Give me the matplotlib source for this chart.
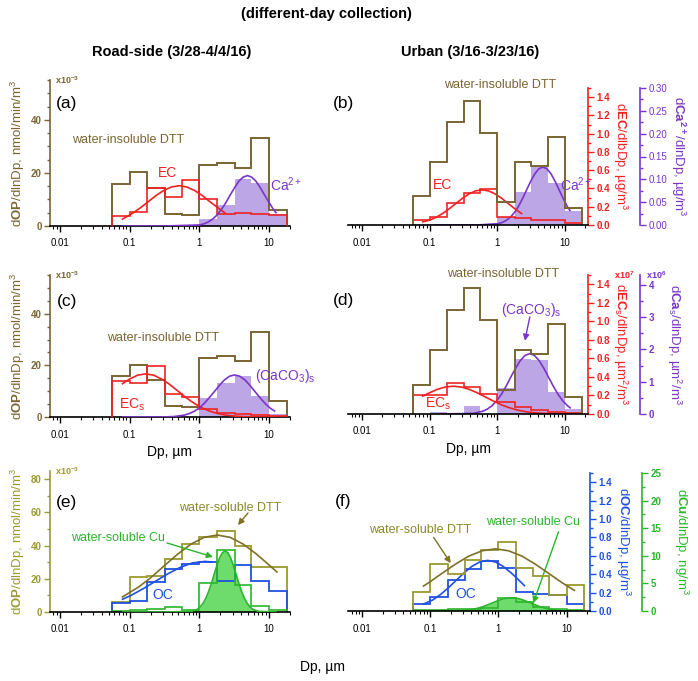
import numpy as np
import matplotlib.pyplot as plt
from matplotlib.ticker import (MultipleLocator, FixedLocator, FixedFormatter,
                               FormatStrFormatter, LogLocator, NullFormatter)

plt.rcParams["font.family"] = ["Liberation Sans", "DejaVu Sans"]
plt.rcParams["mathtext.fontset"] = "custom"
plt.rcParams["mathtext.rm"] = "Liberation Sans"
plt.rcParams["mathtext.bf"] = "Liberation Sans:bold"
plt.rcParams["mathtext.it"] = "Liberation Sans:italic"
plt.rcParams["mathtext.default"] = "regular"

# MOUDI stage cut points (um)
edges = [0.056, 0.1, 0.18, 0.32, 0.56, 1.0, 1.8, 3.2, 5.6, 10, 18]
x_ticks = [0.01, 0.1, 1, 10]
x_ticklabels = ["0.01", "0.1", "1", "10"]

# ---- road-side (a), (c): everything read in units of the left axis (x10^-3)
roadside_dtt = [15.9, 20.2, 14.2, 4.4, 4.0, 23.0, 23.6, 21.7, 33.0, 6.2]
a_ec = [3.6, 5.2, 14.2, 11.1, 17.5, 10.2, 4.6, 4.9, 4.6, 4.2]
a_ca = [0, 0, 0, 0, 0, 2.5, 8.0, 17.7, 16.1, 4.6]
a_ec_fit_x = [0.079, 0.112, 0.145, 0.186, 0.24, 0.309, 0.398, 0.513, 0.661, 0.851, 1.10, 1.41, 1.82, 2.34]
a_ec_fit_y = [2.6, 4.9, 7.0, 9.2, 11.5, 13.4, 14.7, 15.2, 14.7, 13.4, 11.5, 9.2, 7.0, 4.9]
a_ca_fit_x = [0.08, 0.316, 1.0, 1.16, 1.34, 1.55, 1.79, 2.07, 2.39, 2.75, 3.18, 3.67, 4.24, 4.9,
              5.65, 6.53, 7.54, 8.71, 10.1, 11.6, 12.6]
a_ca_fit_y = [0, 0, 0.4, 0.8, 1.5, 2.6, 4.1, 6.2, 8.7, 11.5, 14.3, 16.8, 18.4, 19.0,
              18.4, 16.8, 14.3, 11.5, 8.7, 6.2, 5.0]

c_ecs = [14.1, 13.1, 19.6, 8.9, 7.8, 3.0, 1.6, 1.0, 0.7, 0.4]
c_caco3 = [0, 0, 0, 0, 0, 7.4, 13.0, 16.0, 8.2, 1.3]
c_ecs_fit_x = [0.079, 0.1, 0.13, 0.17, 0.221, 0.288, 0.376, 0.49, 0.638, 0.832, 1.08, 1.41,
               1.84, 2.4, 3.13, 4.07, 6.92, 12.6]
c_ecs_fit_y = [12.9, 14.7, 16.2, 16.7, 16.2, 14.7, 12.6, 10.1, 7.6, 5.4, 3.6, 2.26,
               1.33, 0.73, 0.38, 0.19, 0.04, 0]
c_caco3_fit_x = [0.08, 0.316, 0.434, 0.605, 0.715, 0.845, 0.999, 1.18, 1.39, 1.65, 1.95, 2.30,
                 2.72, 3.21, 3.80, 4.49, 5.30, 6.27, 7.40, 8.75, 10.3, 12.0]
c_caco3_fit_y = [0, 0.04, 0.18, 0.72, 1.3, 2.2, 3.5, 5.3, 7.5, 9.9, 12.3, 14.4,
                 15.8, 16.3, 15.8, 14.4, 12.3, 9.9, 7.5, 5.3, 3.5, 2.3]

# ---- urban (b), (d)
urban_dtt = [11.0, 24.0, 39.0, 47.0, 35.0, 8.8, 24.0, 22.5, 33.5, 6.5]   # hidden left axis
b_ec = [0.05, 0.09, 0.24, 0.35, 0.39, 0.085, 0.08, 0.06, 0.06, 0.02]      # ug/m3
b_ca = [0.003, 0.003, 0.003, 0.003, 0.003, 0.018, 0.073, 0.126, 0.091, 0.031]
b_ec_fit_x = [0.079, 0.0989, 0.124, 0.155, 0.194, 0.243, 0.304, 0.38, 0.476, 0.596, 0.746,
              0.933, 1.17, 1.46, 1.83, 2.29]
b_ec_fit_y = [0.035, 0.052, 0.083, 0.125, 0.176, 0.234, 0.291, 0.34, 0.373, 0.385, 0.373,
              0.34, 0.291, 0.234, 0.176, 0.125]
b_ca_fit_x = [0.12, 0.5, 1.03, 1.19, 1.36, 1.57, 1.80, 2.07, 2.37, 2.72, 3.13, 3.59, 4.12,
              4.73, 5.43, 6.24, 7.16, 8.22, 9.44, 10.8, 11.9]
b_ca_fit_y = [0, 0, 0.0029, 0.0056, 0.0101, 0.0172, 0.0275, 0.0412, 0.0581, 0.077, 0.0959,
              0.112, 0.123, 0.127, 0.123, 0.112, 0.0959, 0.077, 0.0581, 0.0412, 0.0317]

d_ecs = [0.20, 0.21, 0.33, 0.29, 0.22, 0.13, 0.08, 0.045, 0.02, 0.008]   # x10^7 um2/m3
d_caco3 = [0, 0.05, 0, 0.26, 0, 0.79, 1.70, 1.67, 0.69, 0.14]            # x10^6 um2/m3
d_ecs_fit_x = [0.079, 0.0977, 0.129, 0.17, 0.224, 0.295, 0.389, 0.513, 0.676, 0.891, 1.17,
               1.55, 2.04, 2.69, 3.55, 6.17, 12.0]
d_ecs_fit_y = [0.193, 0.226, 0.265, 0.291, 0.300, 0.291, 0.265, 0.226, 0.182, 0.137, 0.097,
               0.065, 0.041, 0.024, 0.013, 0.003, 0]
d_caco3_fit_x = [0.15, 0.437, 0.603, 0.708, 0.832, 0.977, 1.15, 1.35, 1.58, 1.86, 2.19, 2.57,
                 3.02, 3.55, 4.17, 4.90, 5.75, 6.76, 7.94, 9.33, 11.0, 12.0]
d_caco3_fit_y = [0, 0.02, 0.082, 0.149, 0.253, 0.404, 0.607, 0.856, 1.135, 1.41, 1.65, 1.81,
                 1.87, 1.81, 1.65, 1.41, 1.135, 0.856, 0.607, 0.404, 0.253, 0.19]

# ---- water-soluble (e) road-side, left-axis units
e_dtt = [6.0, 21.0, 22.0, 32.0, 41.0, 45.0, 49.0, 40.0, 27.0, 27.0]
e_oc = [5.4, 6.5, 18.0, 26.0, 29.0, 30.4, 18.4, 28.4, 18.4, 12.4]
e_cu = [0.6, 1.0, 1.8, 3.0, 1.4, 17.5, 37.4, 16.5, 3.6, 1.4]
e_dtt_fit_x = [0.079, 0.135, 0.208, 0.32, 0.493, 0.759, 1.17, 1.80, 2.77, 4.27, 6.57, 10.1, 13.0]
e_dtt_fit_y = [9.1, 15.1, 21.2, 28.2, 35.0, 40.9, 45.0, 46.4, 45.0, 40.9, 35.0, 28.2, 24.1]
e_oc_fit_x = [0.079, 0.1035, 0.156, 0.234, 0.353, 0.531, 0.799, 1.20, 1.50]
e_oc_fit_y = [7.7, 9.9, 14.0, 18.5, 23.0, 26.9, 29.6, 30.5, 30.2]
e_cu_fit_x = [0.08, 0.316, 0.776, 0.933, 1.02, 1.12, 1.23, 1.35, 1.48, 1.62, 1.78, 1.95, 2.14,
              2.34, 2.57, 2.82, 3.09, 3.39, 3.72, 4.07, 4.47, 4.90, 5.37, 5.89, 7.08, 12.6]
e_cu_fit_y = [0, 0, 0.4, 1.6, 2.9, 5.0, 8.0, 12.0, 16.8, 22.3, 27.8, 32.5, 35.7,
              36.8, 35.7, 32.5, 27.8, 22.3, 16.8, 12.0, 8.0, 5.0, 2.9, 1.6, 0.4, 0]

# ---- water-soluble (f) urban
f_dtt = [11.4, 28.0, 22.4, 30.4, 36.4, 41.4, 26.0, 20.8, 9.4, 15.4]     # hidden left axis
f_oc = [0.08, 0.15, 0.34, 0.46, 0.54, 0.47, 0.21, 0.19, 0.17, 0.08]     # ug/m3
f_cu = [0.1, 0.2, 0.3, 0.3, 0.6, 2.4, 1.7, 0.8, 0.4, 0.2]               # ng/m3
f_dtt_fit_x = [0.0794, 0.0953, 0.149, 0.234, 0.366, 0.574, 0.90, 1.41, 2.21, 3.46, 5.42, 8.49, 13.0]
f_dtt_fit_y = [15.0, 17.1, 22.7, 28.2, 33.0, 36.2, 37.4, 36.2, 33.0, 28.2, 22.7, 17.1, 12.4]
f_oc_fit_x = [0.079, 0.108, 0.141, 0.184, 0.24, 0.313, 0.407, 0.531, 0.692, 0.902, 1.17, 1.53, 2.0, 2.4]
f_oc_fit_y = [0.075, 0.119, 0.179, 0.252, 0.334, 0.415, 0.485, 0.533, 0.55, 0.533, 0.485,
              0.415, 0.334, 0.276]
f_cu_fit_x = [0.08, 0.316, 0.427, 0.501, 0.589, 0.692, 0.813, 0.955, 1.12, 1.32, 1.55, 1.82,
              2.14, 2.51, 2.95, 3.47, 4.07, 4.79, 5.62, 7.76, 10.7, 12.6]
f_cu_fit_y = [0, 0.12, 0.32, 0.52, 0.78, 1.10, 1.46, 1.81, 2.12, 2.33, 2.4, 2.33,
              2.12, 1.81, 1.46, 1.10, 0.78, 0.52, 0.32, 0.10, 0.03, 0.01]

BROWN = "#7a6532"
OLIVE = "#9a9a30"
RED = "#ee2222"
PURPLE = "#7a35c8"
LAVENDER = "#bca6e6"
BLUE = "#2050e0"
GREEN = "#2cb52c"
LGREEN = "#6ddc6d"

W, H = 698, 681
fig = plt.figure(figsize=(W / 100, H / 100), dpi=100)
xlim_left = (0.0072, 20)
xlim_right = (0.0062, 22)


def make_axes(l, t, r, b):
    return fig.add_axes([l / W, 1 - b / H, (r - l) / W, (b - t) / H])


def fig_xy(x, y):
    return x / W, 1 - y / H


def setup_x(ax, xlim):
    ax.set_xscale("log")
    ax.set_xlim(xlim)
    ax.xaxis.set_major_locator(FixedLocator(x_ticks))
    ax.xaxis.set_major_formatter(FixedFormatter(x_ticklabels))
    ax.xaxis.set_minor_locator(LogLocator(base=10, subs=np.arange(2, 10), numticks=30))
    ax.xaxis.set_minor_formatter(NullFormatter())
    ax.tick_params(axis="x", which="major", direction="out", length=4, width=1, labelsize=7, pad=5)
    ax.tick_params(axis="x", which="minor", direction="out", length=2.2, width=0.8)
    ax.spines["bottom"].set_linewidth(1.2)
    ax.spines["top"].set_visible(False)


def setup_y(ax, side, color, ylim, major, minor, fmt):
    ax.set_ylim(ylim)
    ax.yaxis.set_major_locator(MultipleLocator(major))
    ax.yaxis.set_minor_locator(MultipleLocator(minor))
    ax.yaxis.set_major_formatter(FormatStrFormatter(fmt))
    ax.spines[side].set_color(color)
    ax.spines[side].set_linewidth(1.2)
    ax.tick_params(axis="y", which="both", colors=color, direction="out", width=1)
    ax.tick_params(axis="y", which="major", length=4, labelsize=7, pad=2)
    ax.tick_params(axis="y", which="minor", length=2.2)
    for lab in ax.get_yticklabels():
        lab.set_fontweight("bold")


def left_panel(rect, color, ymax, major, minor, letter, letter_y):
    ax = make_axes(*rect)
    setup_x(ax, xlim_left)
    ax.spines["right"].set_visible(False)
    setup_y(ax, "left", color, (0, ymax), major, minor, "%d")
    ax.set_ylabel(r"d$\mathbf{OP}$/dlnDp, nmol/min/m$^3$", color=color, fontsize=9.5,
                  ha="center", va="center")
    ax.yaxis.set_label_coords(-0.135, 0.5)
    ax.text(0.02, 1.0, r"$\mathbf{x10^{-3}}$", transform=ax.transAxes, color=color,
            fontsize=6.5, ha="left", va="center")
    ax.text(0.07, letter_y, letter, transform=ax.transAxes, fontsize=12.5, ha="center", va="center")
    return ax


def right_panel(rect, dtt_ylim, letter, letter_y):
    ax = make_axes(*rect)
    setup_x(ax, xlim_right)
    ax.set_ylim(dtt_ylim)
    for s in ("left", "right"):
        ax.spines[s].set_visible(False)
    ax.yaxis.set_visible(False)
    ax.patch.set_visible(False)
    ax2 = ax.twinx()
    ax3 = ax.twinx()
    for a in (ax2, ax3):
        for s in ("left", "top", "bottom"):
            a.spines[s].set_visible(False)
    # second right axis sits ~52 px further right (offset is in points)
    ax3.spines["right"].set_position(("outward", 37.5))
    ax3.set_zorder(1)
    ax2.set_zorder(2)
    ax.set_zorder(3)
    ax.text(-0.02, letter_y, letter, transform=ax.transAxes, fontsize=12.5, ha="center", va="center")
    return ax, ax2, ax3


def right_label(a, text, color, xpos):
    a.set_ylabel(text, color=color, fontsize=9.5, rotation=270, ha="center", va="center")
    a.yaxis.set_label_coords(xpos, 0.5)


def arrow(ax, start, end, color):
    ax.annotate("", xy=end, xytext=start,
                arrowprops=dict(arrowstyle="-|>", color=color, lw=1.0,
                                mutation_scale=9, shrinkA=0, shrinkB=0))


# titles
fig.text(*fig_xy(326, 14), "(different-day collection)", fontsize=10.5, fontweight="bold",
         ha="center", va="center")
fig.text(*fig_xy(172, 52), "Road-side (3/28-4/4/16)", fontsize=10.5, fontweight="bold",
         ha="center", va="center")
fig.text(*fig_xy(470, 52), "Urban (3/16-3/23/16)", fontsize=10.5, fontweight="bold",
         ha="center", va="center")

# ---------------- (a)
ax = left_panel((50, 80, 290, 226), BROWN, 55, 20, 5, "(a)", 0.84)
ax.stairs(a_ca, edges, fill=True, color=LAVENDER, zorder=1)
ax.stairs(roadside_dtt, edges, color=BROWN, lw=1.4, zorder=2)
ax.stairs(a_ec, edges, color=RED, lw=1.2, zorder=3)
ax.plot(a_ec_fit_x, a_ec_fit_y, color=RED, lw=1.2, zorder=4)
ax.plot(a_ca_fit_x, a_ca_fit_y, color=PURPLE, lw=1.2, zorder=4)
ax.text(0.095, 32.4, "water-insoluble DTT", color=BROWN, fontsize=9, ha="center", va="center")
ax.text(0.355, 20, "EC", color=RED, fontsize=10, ha="center", va="center")
ax.text(10.3, 15.4, r"Ca$^{2+}$", color=PURPLE, fontsize=10, ha="left", va="center")

# ---------------- (b)
ax, ax2, ax3 = right_panel((348, 88, 588, 225), (0, 52), "(b)", 0.89)
setup_y(ax2, "right", RED, (0, 1.5), 0.2, 0.1, "%.1f")
setup_y(ax3, "right", PURPLE, (0, 0.30), 0.05, 0.025, "%.2f")
for lab in ax3.get_yticklabels():
    lab.set_fontweight("normal")
right_label(ax2, r"d$\mathbf{EC}$/dlbDp, µg/m$^3$", RED, 1.133)
right_label(ax3, r"d$\mathbf{Ca}^{\mathbf{2+}}$/dlnDp, µg/m$^3$", PURPLE, 1.375)
ax3.stairs(b_ca, edges, fill=True, color=LAVENDER)
ax3.plot(b_ca_fit_x, b_ca_fit_y, color=PURPLE, lw=1.2)
ax2.stairs(b_ec, edges, color=RED, lw=1.2)
ax2.plot(b_ec_fit_x, b_ec_fit_y, color=RED, lw=1.2)
ax.stairs(urban_dtt, edges, color=BROWN, lw=1.4)
ax2.text(1.09, 1.53, "water-insoluble DTT", color=BROWN, fontsize=9, ha="center", va="center")
ax2.text(0.157, 0.44, "EC", color=RED, fontsize=10, ha="center", va="center")
ax2.text(8.4, 0.44, r"Ca$^{2+}$", color=PURPLE, fontsize=10, ha="left", va="center")

# ---------------- (c)
ax = left_panel((50, 275, 290, 417), BROWN, 55, 20, 5, "(c)", 0.81)
ax.stairs(c_caco3, edges, fill=True, color=LAVENDER, zorder=1)
ax.stairs(roadside_dtt, edges, color=BROWN, lw=1.4, zorder=2)
ax.stairs(c_ecs, edges, color=RED, lw=1.2, zorder=3)
ax.plot(c_ecs_fit_x, c_ecs_fit_y, color=RED, lw=1.2, zorder=4)
ax.plot(c_caco3_fit_x, c_caco3_fit_y, color=PURPLE, lw=1.2, zorder=4)
ax.text(0.30, 30.6, "water-insoluble DTT", color=BROWN, fontsize=9, ha="center", va="center")
ax.text(0.108, 4.6, r"EC$_\mathrm{s}$", color=RED, fontsize=10, ha="center", va="center")
ax.text(16.9, 15.9, r"(CaCO$_3$)$_\mathrm{s}$", color=PURPLE, fontsize=10, ha="center", va="center")
ax.set_xlabel("Dp, µm", fontsize=10, labelpad=4)

# ---------------- (d)
ax, ax2, ax3 = right_panel((348, 275, 588, 414), (0, 52), "(d)", 0.82)
setup_y(ax2, "right", RED, (0, 1.5), 0.2, 0.1, "%.1f")
setup_y(ax3, "right", PURPLE, (0, 4.3), 1, 0.5, "%d")
right_label(ax2, r"d$\mathbf{EC}_\mathrm{s}$/dlnDp, µm$^2$/m$^3$", RED, 1.133)
right_label(ax3, r"d$\mathbf{Ca}_\mathrm{s}$/dlnDp, µm$^2$/m$^3$", PURPLE, 1.36)
ax2.text(1.11, 1.0, r"$\mathbf{x10^{7}}$", transform=ax2.transAxes, color=RED, fontsize=6.5,
         ha="left", va="center")
ax3.text(1.24, 1.0, r"$\mathbf{x10^{6}}$", transform=ax3.transAxes, color=PURPLE, fontsize=6.5,
         ha="left", va="center")
ax3.stairs(d_caco3, edges, fill=True, color=LAVENDER)
ax3.plot(d_caco3_fit_x, d_caco3_fit_y, color=PURPLE, lw=1.2)
ax2.stairs(d_ecs, edges, color=RED, lw=1.2)
ax2.plot(d_ecs_fit_x, d_ecs_fit_y, color=RED, lw=1.2)
ax.stairs(urban_dtt, edges, color=BROWN, lw=1.4)
ax2.text(1.21, 1.51, "water-insoluble DTT", color=BROWN, fontsize=9, ha="center", va="center")
ax2.text(0.132, 0.108, r"EC$_\mathrm{s}$", color=RED, fontsize=10, ha="center", va="center")
ax2.text(3.24, 1.12, r"(CaCO$_3$)$_\mathrm{s}$", color=PURPLE, fontsize=10, ha="center", va="center")
arrow(ax2, (3.03, 1.047), (2.56, 0.79), PURPLE)
ax.set_xlabel("Dp, µm", fontsize=10, labelpad=4)

# ---------------- (e)
ax = left_panel((50, 471, 290, 612), OLIVE, 85, 20, 10, "(e)", 0.78)
ax.fill_between(e_cu_fit_x, e_cu_fit_y, color=LGREEN, lw=0, zorder=1)
ax.stairs(e_dtt, edges, color=OLIVE, lw=1.3, zorder=2)
ax.stairs(e_oc, edges, color=BLUE, lw=1.3, zorder=2)
ax.stairs(e_cu, edges, color=GREEN, lw=1.2, zorder=2)
ax.plot(e_cu_fit_x, e_cu_fit_y, color=GREEN, lw=1.2, zorder=3)
ax.plot(e_dtt_fit_x, e_dtt_fit_y, color="#7d7128", lw=1.2, zorder=3)
ax.plot(e_oc_fit_x, e_oc_fit_y, color=BLUE, lw=1.2, zorder=3)
ax.text(2.75, 62.7, "water-soluble DTT", color="#8a8a28", fontsize=9, ha="center", va="center")
arrow(ax, (4.99, 59.7), (3.58, 52.4), "#7d7128")
ax.text(0.068, 44.6, "water-soluble Cu", color=GREEN, fontsize=9, ha="center", va="center")
arrow(ax, (0.344, 41.6), (1.57, 33.2), GREEN)
ax.text(0.30, 10.2, "OC", color=BLUE, fontsize=10, ha="center", va="center")

# ---------------- (f)
ax, ax2, ax3 = right_panel((348, 473, 590, 611), (0, 83), "(f)", 0.79)
setup_y(ax2, "right", BLUE, (0, 1.5), 0.2, 0.1, "%.1f")
setup_y(ax3, "right", GREEN, (0, 25), 5, 2.5, "%d")
right_label(ax2, r"d$\mathbf{OC}$/dlnDp, µg/m$^3$", BLUE, 1.136)
right_label(ax3, r"d$\mathbf{Cu}$/dlnDp, ng/m$^3$", GREEN, 1.375)
ax3.fill_between(f_cu_fit_x, f_cu_fit_y, color=LGREEN, lw=0)
ax3.plot(f_cu_fit_x, f_cu_fit_y, color=GREEN, lw=1.2)
ax3.stairs(f_cu, edges, color=GREEN, lw=1.2)
ax2.stairs(f_oc, edges, color=BLUE, lw=1.3)
ax2.plot(f_oc_fit_x, f_oc_fit_y, color=BLUE, lw=1.2)
ax.stairs(f_dtt, edges, color=OLIVE, lw=1.3)
ax.plot(f_dtt_fit_x, f_dtt_fit_y, color="#7d7128", lw=1.2)
ax2.text(0.0718, 0.88, "water-soluble DTT", color="#8a8a28", fontsize=9, ha="center", va="center")
arrow(ax2, (0.112, 0.80), (0.199, 0.52), "#7d7128")
ax2.text(3.24, 0.967, "water-soluble Cu", color=GREEN, fontsize=9, ha="center", va="center")
arrow(ax2, (7.59, 0.86), (3.24, 0.087), GREEN)
ax2.text(0.332, 0.185, "OC", color=BLUE, fontsize=10, ha="center", va="center")

fig.text(*fig_xy(323, 667), "Dp, µm", fontsize=10, ha="center", va="center")

fig.savefig("out.png", dpi=100, facecolor="white")
